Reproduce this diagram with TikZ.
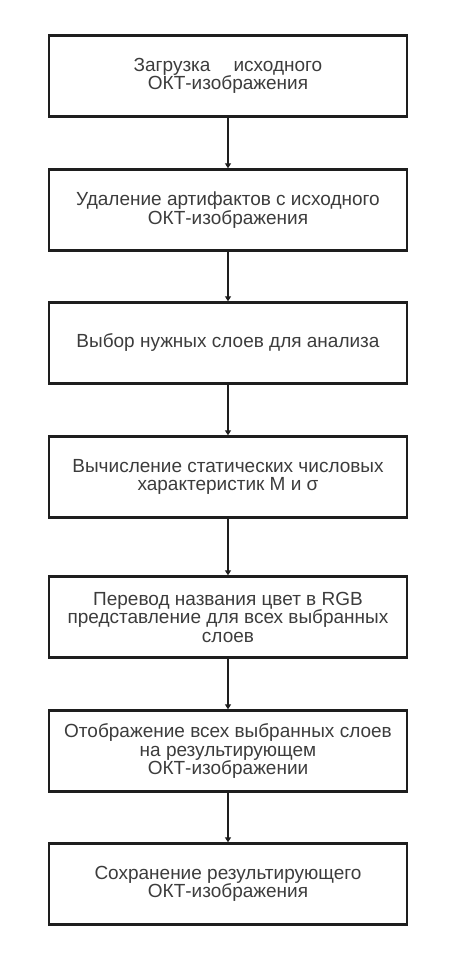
\documentclass[tikz,border=0pt]{standalone}
\usepackage{fontspec}
\setmainfont{Liberation Sans}
\usetikzlibrary{arrows.meta}
\begin{document}
\begin{tikzpicture}[x=1pt,y=-1pt,
  stepbox/.style={draw={rgb,255:red,30;green,30;blue,30},line width=2.4pt,minimum width=358pt,minimum height=81pt,inner sep=0pt,align=center,text={rgb,255:red,60;green,60;blue,60},font=\fontsize{19}{18.5}\selectfont},
  flow/.style={draw={rgb,255:red,30;green,30;blue,30},line width=1.6pt,-{Triangle[length=5pt,width=6pt]}}]
\path[use as bounding box] (0,0) rectangle (464,979);
\node[stepbox] (load) at (228,76) {Загрузка\hspace{23pt}исходного\\ОКТ-изображения};
\node[stepbox] (clean) at (228,210) {Удаление артифактов с исходного\\ОКТ-изображения};
\node[stepbox] (select) at (228,343) {Выбор нужных слоев для анализа};
\node[stepbox] (stats) at (228,477) {Вычисление статических числовых\\характеристик М и σ};
\node[stepbox] (torgb) at (228,617) {Перевод названия цвет в RGB\\представление для всех выбранных\\слоев};
\node[stepbox] (overlay) at (228,751) {Отображение всех выбранных слоев\\на результирующем\\ОКТ-изображении};
\node[stepbox] (save) at (228,884) {Сохранение результирующего\\ОКТ-изображения};
\draw[flow] (load.south) -- (clean.north);
\draw[flow] (clean.south) -- (select.north);
\draw[flow] (select.south) -- (stats.north);
\draw[flow] (stats.south) -- (torgb.north);
\draw[flow] (torgb.south) -- (overlay.north);
\draw[flow] (overlay.south) -- (save.north);
\end{tikzpicture}
\end{document}
